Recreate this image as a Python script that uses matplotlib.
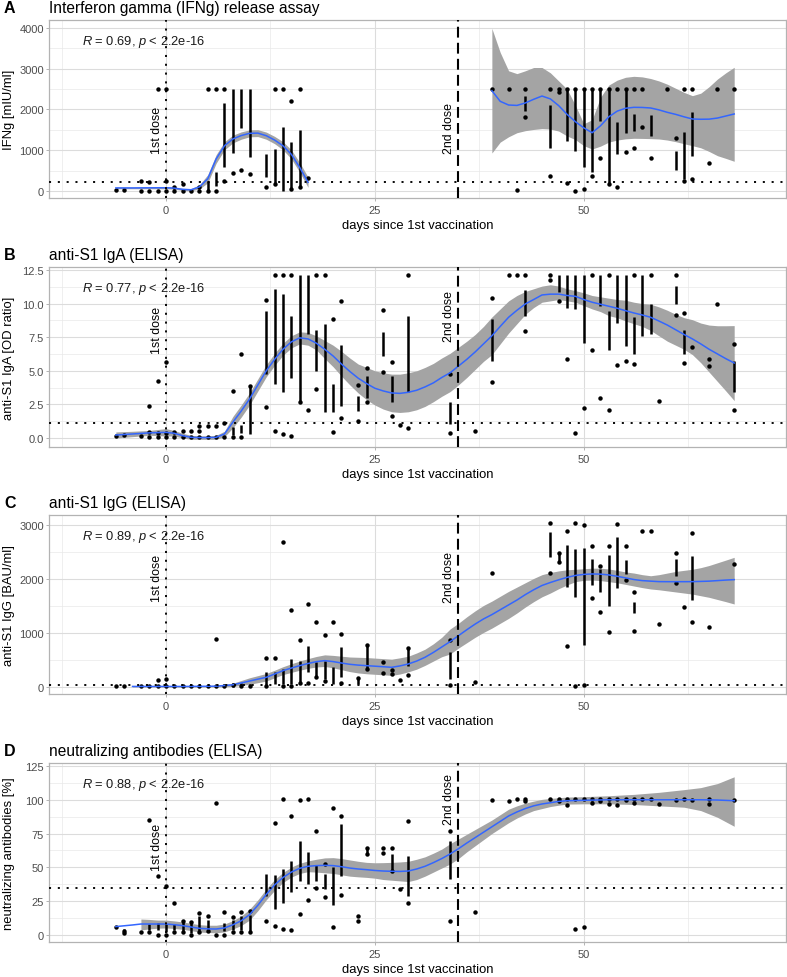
import matplotlib.pyplot as plt
import numpy as np

W, H = 787, 978
plt.rcParams['font.family'] = ['Liberation Sans', 'DejaVu Sans']
plt.rcParams['mathtext.fontset'] = 'custom'
plt.rcParams['mathtext.it'] = 'Liberation Sans:italic'
plt.rcParams['mathtext.rm'] = 'Liberation Sans'

# ---------------- A: IFNg ----------------
a_points = [(-6, 25), (-5, 25), (-3, 250), (-3, 0), (-2, 230), (-2, 0), (-1, 0), (-1, 2500),
            (0, 2500), (0, 0), (0, 240), (1, 100), (1, 0), (2, 180), (2, 0), (3, 0), (4, 0),
            (4, 100), (5, 2500), (5, 0), (6, 2500), (6, 0), (7, 2500), (7, 240), (8, 440),
            (9, 515), (10, 420), (12, 100), (13, 2500), (13, 170), (14, 2500), (15, 2200),
            (15, 60), (16, 2500), (16, 100), (17, 310),
            (39, 2500), (41, 2500), (42, 30), (43, 2500), (43, 1808), (46, 2500), (46, 360),
            (47, 2500), (47, 2420), (48, 2500), (48, 188), (49, 2500), (49, 8), (50, 2500),
            (50, 50), (51, 2500), (51, 360), (52, 2500), (52, 810), (53, 2500), (53, 180),
            (54, 2500), (54, 106), (55, 2500), (55, 950), (56, 2500), (56, 1055), (57, 2500),
            (57, 1578), (58, 802), (60, 2500), (61, 1300), (62, 2500), (62, 253), (63, 2500),
            (63, 295), (65, 687), (66, 2500), (68, 2500)]
a_segs = [(5, 0, 240), (6, 130, 460), (7, 580, 2160), (8, 930, 2500), (9, 1540, 2500),
          (10, 830, 2500), (12, 335, 910), (13, 170, 1030), (14, 0, 1570), (15, 50, 1195),
          (16, 100, 1500),
          (43, 1970, 2339), (46, 1048, 2110), (48, 1235, 2500), (49, 973, 2500), (50, 597, 2500),
          (51, 474, 2500), (52, 1725, 2500), (53, 172, 2500), (54, 908, 1685), (55, 1423, 2500),
          (56, 1480, 1890), (58, 1342, 1865), (61, 523, 989), (62, 295, 1455), (63, 866, 1946)]
a_smooth1 = [(-6, 75, 55, 95), (-4, 75, 55, 95), (-2, 78, 55, 100), (0, 80, 55, 105),
             (1, 70, 45, 95), (2, 40, 15, 65), (3, 30, 5, 60), (4, 100, 50, 150),
             (5, 300, 200, 400), (6, 785, 680, 890), (7, 1110, 1010, 1210), (8, 1276, 1180, 1370),
             (9, 1360, 1270, 1450), (10, 1415, 1330, 1500), (11, 1420, 1335, 1505),
             (12, 1357, 1270, 1445), (13, 1250, 1160, 1340), (14, 1110, 1010, 1210),
             (15, 900, 790, 1010), (16, 580, 460, 700), (17, 213, 90, 340)]
a_smooth2 = [(39, 2461, 932, 3990), (40, 2200, 1200, 3400), (41, 2110, 1330, 2950),
             (42, 2100, 1430, 2880), (43, 2160, 1480, 2950), (44, 2250, 1510, 3030),
             (45, 2330, 1530, 3030), (46, 2260, 1520, 2900), (47, 2094, 1470, 2700),
             (48, 1880, 1350, 2500), (49, 1700, 1260, 2100), (50, 1550, 1112, 1650),
             (51, 1430, 1030, 1750), (52, 1600, 1100, 2300), (53, 1820, 1200, 2600),
             (54, 1960, 1250, 2720), (55, 2030, 1280, 2790), (56, 2053, 1293, 2814),
             (57, 2050, 1290, 2800), (58, 2037, 1285, 2760), (59, 1990, 1276, 2700),
             (60, 1930, 1250, 2620), (61, 1880, 1210, 2520), (62, 1820, 1160, 2420),
             (63, 1767, 1112, 2339), (64, 1760, 1060, 2400), (65, 1763, 970, 2560),
             (66, 1790, 866, 2748), (67, 1840, 800, 2900), (68, 1890, 729, 3035)]

# ---------------- B: IgA ----------------
b_points = [(-6, 0.12), (-5, 0.22), (-3, 0.12), (-2, 2.4), (-2, 0.42), (-2, 0.05), (-1, 4.27),
            (-1, 0.05), (-1, 0.4), (0, 5.63), (0, 0.05), (0, 0.4), (1, 0.47), (1, 0.05), (2, 0.55),
            (2, 0.05), (3, 0.55), (3, 0.05), (4, 0.92), (4, 0.55), (4, 0.05), (5, 0.92), (5, 0.05),
            (6, 0.92), (6, 0.05), (7, 1.1), (7, 0.05), (8, 3.5), (8, 0.05), (9, 6.25), (9, 0.05),
            (10, 3.9), (12, 10.27), (12, 2.33), (13, 12.1), (13, 0.5), (14, 12.1), (14, 0.3),
            (15, 12.1), (15, 0.12), (16, 2.65), (17, 2.1), (18, 12.1), (18, 3.65), (19, 12.1),
            (20, 8.85), (20, 0.42), (21, 10.2), (21, 1.46), (23, 3.94), (23, 1.29), (24, 5.23),
            (24, 2.7), (26, 9.5), (26, 4.9), (27, 5.65), (27, 1.6), (28, 0.97), (29, 12.1),
            (29, 0.72), (34, 4.74), (34, 0.35), (37, 0.55), (39, 10.4), (39, 4.2), (41, 12.1),
            (42, 12.1), (43, 12.1), (43, 7.96), (46, 12.1), (46, 11.78), (47, 10.2), (48, 5.88),
            (49, 0.37), (50, 2.2), (51, 12.1), (51, 6.57), (52, 3.0), (53, 12.1), (53, 2.08),
            (54, 5.43), (55, 5.75), (56, 12.1), (56, 5.48), (58, 12.1), (59, 2.78), (61, 12.1),
            (61, 9.15), (62, 9.28), (62, 5.58), (63, 6.8), (65, 5.88), (65, 5.38), (66, 10.0),
            (68, 6.97), (68, 2.1)]
b_segs = [(8, 0.2, 0.8), (9, 0.4, 1.0), (10, 0.3, 3.9), (12, 4.76, 9.47), (13, 4.0, 11.1),
          (14, 3.4, 10.7), (15, 4.5, 9.1), (16, 2.65, 12.1), (17, 7.74, 12.1), (18, 5.0, 8.0),
          (19, 1.9, 8.5), (20, 1.9, 4.0), (21, 2.4, 6.9), (23, 2.0, 3.15), (24, 3.0, 4.6),
          (26, 6.1, 7.86), (27, 2.65, 4.6), (29, 3.4, 9.05), (34, 1.04, 2.7), (39, 5.75, 8.85),
          (43, 9.05, 11.0), (47, 10.87, 12.1), (48, 9.65, 12.1), (49, 9.6, 12.1), (50, 7.07, 12.1),
          (52, 9.8, 12.1), (53, 6.57, 9.47), (54, 8.56, 12.1), (55, 6.87, 12.1), (56, 6.25, 8.98),
          (57, 7.56, 12.1), (58, 7.74, 9.97), (61, 9.97, 11.33), (62, 6.25, 8.0), (68, 3.4, 5.75)]
b_smooth = [(-6, 0.22, 0.0, 0.45), (-4, 0.3, 0.1, 0.5), (-2, 0.38, 0.2, 0.56), (0, 0.42, 0.15, 0.7),
            (1, 0.35, 0.15, 0.55), (2, 0.17, 0.0, 0.35), (3, 0.05, -0.1, 0.2), (4, 0.03, -0.1, 0.16),
            (5, 0.03, -0.1, 0.16), (6, 0.05, -0.1, 0.2), (7, 0.3, 0.1, 0.5), (8, 1.17, 0.75, 1.6),
            (9, 2.0, 1.55, 2.45), (10, 2.9, 2.45, 3.35), (11, 3.95, 3.5, 4.4), (12, 5.0, 4.55, 5.45),
            (13, 5.85, 5.4, 6.3), (14, 6.6, 6.15, 7.05), (15, 7.15, 6.7, 7.6), (16, 7.45, 7.0, 7.9),
            (17, 7.37, 6.9, 7.85), (18, 7.05, 6.55, 7.6), (19, 6.6, 5.9, 7.25), (20, 6.1, 5.3, 6.9),
            (21, 5.5, 4.6, 6.45), (22, 4.95, 3.95, 5.95), (23, 4.45, 3.35, 5.5), (24, 4.05, 2.85, 5.25),
            (25, 3.7, 2.45, 5.0), (26, 3.5, 2.15, 4.85), (27, 3.35, 1.95, 4.75), (28, 3.32, 1.9, 4.75),
            (29, 3.4, 1.95, 4.85), (30, 3.55, 2.1, 5.0), (31, 3.8, 2.35, 5.25), (32, 4.1, 2.7, 5.55),
            (33, 4.5, 3.1, 5.95), (34, 4.85, 3.45, 6.3), (35, 5.35, 3.95, 6.75), (36, 5.85, 4.5, 7.2),
            (37, 6.4, 5.1, 7.7), (38, 7.0, 5.7, 8.3), (39, 7.6, 6.2, 9.0), (40, 8.3, 7.0, 9.6),
            (41, 8.98, 7.8, 10.2), (42, 9.5, 8.5, 10.6), (43, 9.97, 9.2, 10.9), (44, 10.3, 9.7, 11.1),
            (45, 10.64, 10.1, 11.3), (46, 10.7, 10.2, 11.4), (47, 10.7, 10.3, 11.3),
            (48, 10.6, 10.2, 11.1), (49, 10.54, 10.1, 10.96), (50, 10.3, 9.85, 10.8),
            (51, 10.1, 9.6, 10.6), (52, 9.95, 9.4, 10.5), (53, 9.8, 9.1, 10.4), (54, 9.65, 8.95, 10.3),
            (55, 9.47, 8.7, 10.25), (56, 9.3, 8.5, 10.1), (57, 9.15, 8.3, 10.0), (58, 8.98, 8.0, 9.95),
            (59, 8.7, 7.6, 9.75), (60, 8.4, 7.2, 9.5), (61, 8.05, 6.9, 9.2), (62, 7.7, 6.6, 8.95),
            (63, 7.37, 6.2, 8.8), (64, 7.0, 5.6, 8.55), (65, 6.6, 4.9, 8.4), (66, 6.25, 4.2, 8.35),
            (67, 5.9, 3.5, 8.35), (68, 5.58, 2.78, 8.36)]

# ---------------- C: IgG ----------------
c_points = [(-6, 12), (-5, 12), (-3, 10), (-2, 10), (-1, 130), (-1, 10), (0, 148), (0, 10), (1, 10),
            (2, 10), (3, 10), (4, 10), (5, 10), (6, 10), (6, 889), (7, 15), (8, 30), (9, 20), (10, 20),
            (12, 543), (12, 10), (13, 543), (14, 2691), (14, 10), (15, 1426), (15, 10), (16, 870),
            (16, 80), (17, 1537), (17, 70), (18, 1198), (18, 179), (19, 963), (19, 110), (20, 1198),
            (21, 981), (21, 80), (23, 160), (24, 784), (24, 333), (26, 457), (26, 259), (27, 320),
            (27, 240), (28, 130), (29, 716), (29, 222), (34, 870), (34, 37), (37, 86), (39, 2111),
            (46, 3031), (46, 2111), (47, 2481), (47, 2309), (48, 2883), (48, 753), (49, 3031),
            (49, 25), (50, 3006), (50, 37), (51, 2617), (51, 1642), (52, 2235), (52, 1395),
            (53, 2605), (53, 1012), (54, 3019), (55, 2605), (55, 1988), (56, 1753), (56, 1043),
            (57, 2895), (58, 2895), (59, 1167), (61, 2475), (61, 1920), (62, 1475), (63, 2852),
            (63, 1198), (65, 1117), (68, 2278)]
c_segs = [(7, 0, 60), (8, 0, 80), (9, 0, 70), (10, 0, 60), (12, 25, 270), (13, 56, 272),
          (14, 56, 333), (15, 56, 518), (16, 86, 488), (17, 272, 765), (18, 210, 457),
          (19, 148, 488), (20, 56, 364), (21, 179, 735), (23, 55, 160), (24, 333, 765),
          (29, 395, 704), (34, 148, 642), (46, 2401, 2864), (47, 2330, 2460), (48, 1846, 2630),
          (49, 1660, 2556), (50, 784, 2568), (51, 1889, 2370), (52, 1765, 2185), (53, 1494, 2444),
          (54, 1827, 2772), (55, 2093, 2352), (56, 1370, 1568), (61, 2062, 2370), (63, 1617, 2432)]
c_smooth = [(-4, 10, 0, 20), (-2, 10, 0, 20), (0, 10, 0, 20), (2, 10, 0, 20), (4, 12, 0, 25),
            (6, 15, 0, 30), (8, 40, 10, 70), (9, 74, 30, 120), (10, 110, 50, 170), (11, 145, 80, 210),
            (12, 179, 110, 250), (13, 240, 170, 310), (14, 302, 230, 375), (15, 350, 270, 430),
            (16, 395, 310, 480), (17, 435, 345, 525), (18, 469, 370, 565), (19, 488, 380, 595),
            (20, 470, 355, 585), (21, 444, 320, 570), (22, 420, 285, 555), (23, 405, 260, 550),
            (24, 395, 245, 545), (25, 385, 235, 535), (26, 375, 225, 525), (27, 364, 215, 515),
            (28, 390, 240, 540), (29, 426, 280, 570), (30, 480, 330, 630), (31, 550, 400, 700),
            (32, 640, 480, 800), (33, 740, 560, 920), (34, 840, 611, 1074), (35, 950, 720, 1180),
            (36, 1060, 820, 1300), (37, 1165, 920, 1410), (38, 1260, 1010, 1510),
            (39, 1340, 1090, 1590), (40, 1430, 1180, 1680), (41, 1520, 1270, 1770),
            (42, 1610, 1370, 1850), (43, 1710, 1480, 1930), (44, 1800, 1580, 2010),
            (45, 1880, 1670, 2080), (46, 1935, 1740, 2120), (47, 1985, 1820, 2150),
            (48, 2030, 1890, 2170), (49, 2065, 1950, 2180), (50, 2085, 1975, 2190),
            (51, 2093, 1980, 2200), (52, 2090, 1970, 2200), (53, 2075, 1950, 2185),
            (54, 2050, 1930, 2160), (55, 2020, 1900, 2130), (56, 1990, 1870, 2110),
            (57, 1970, 1840, 2080), (58, 1960, 1815, 2060), (59, 1951, 1800, 2080),
            (60, 1950, 1780, 2110), (61, 1950, 1760, 2140), (62, 1950, 1740, 2160),
            (63, 1951, 1720, 2180), (64, 1955, 1690, 2210), (65, 1960, 1660, 2250),
            (66, 1970, 1620, 2300), (67, 1980, 1580, 2350), (68, 1988, 1537, 2401)]

# ---------------- D: neutralizing ----------------
d_points = [(-6, 6.2), (-5, 3.2), (-5, 1.5), (-3, 2.0), (-2, 85.3), (-2, 2), (-1, 43.9), (-1, 0.25),
            (0, 36.5), (0, 0.25), (1, 23.7), (1, 2), (2, 10.6), (2, 2.5), (3, 9.9), (3, 0.25),
            (4, 16), (4, 2), (5, 13.8), (5, 3.2), (6, 97.4), (6, 0.25), (7, 16.8), (7, 0.25), (8, 13),
            (8, 2), (9, 16.8), (9, 2), (10, 18), (10, 2.5), (12, 10.1), (13, 82.8), (13, 6.4),
            (14, 100.5), (14, 4.4), (15, 88.2), (15, 3.7), (16, 99.5), (16, 15.5), (17, 100.5),
            (17, 26.1), (18, 77.2), (18, 34.5), (19, 52.5), (19, 27.9), (20, 93.9), (20, 5.7),
            (21, 87.8), (21, 29.8), (23, 13.8), (23, 10.1), (24, 64.3), (24, 59.9), (26, 64.3),
            (26, 60.6), (27, 64.3), (27, 47.6), (28, 34), (29, 84), (29, 23.7), (34, 77.2),
            (34, 10.6), (37, 17.3), (39, 99.8), (41, 99.3), (42, 100.5), (43, 100.5), (43, 99.3),
            (46, 100.5), (47, 100.5), (47, 99.3), (48, 100.5), (48, 96), (49, 100.5), (49, 4.4),
            (50, 100.5), (50, 5.7), (51, 100.5), (51, 97.5), (52, 100.5), (52, 99.3), (53, 100.5),
            (53, 97), (54, 100.5), (54, 95.8), (55, 100.5), (55, 100), (56, 100.5), (56, 97.5),
            (57, 100.5), (58, 100.5), (59, 96.9), (61, 99.8), (62, 100.5), (63, 99.8), (65, 100.5),
            (65, 96.9), (68, 99.8)]
d_segs = [(-5, 1.5, 4.5), (-2, 4, 8), (-1, 4, 9), (0, 2, 8), (1, 4, 8), (2, 3, 10), (3, 1.5, 9.5),
          (4, 3, 14), (5, 4, 11), (7, 3, 9), (8, 4, 11), (9, 4, 14), (10, 3, 15), (12, 29, 45),
          (13, 19.2, 44.4), (14, 23.7, 48.8), (15, 31.6, 55), (16, 40.2, 69.8), (17, 37.7, 61.6),
          (18, 40, 52), (19, 34, 45), (20, 21.9, 50.2), (21, 43.9, 82), (24, 60, 64), (27, 48, 60),
          (29, 29.1, 58.2), (34, 41.4, 69.8)]
nan = float('nan')
d_smooth = [(-6, 6.2, nan, nan), (-5, 6.8, nan, nan), (-4, 7.4, nan, nan), (-3, 8.1, 3.7, 11.8),
            (-2, 8.1, 4.5, 11.5), (-1, 8.1, 5, 11), (0, 8.1, 5.2, 11), (1, 7.6, 4.8, 10.4),
            (2, 6.9, 4.2, 9.6), (3, 5.9, 3.2, 8.6), (4, 4.9, 2.2, 7.6), (5, 4.5, 1.8, 7.2),
            (6, 4.4, 1.6, 7.2), (7, 5.2, 2.3, 8.1), (8, 7.5, 4.4, 10.6), (9, 10.5, 7, 14),
            (10, 15, 11, 19), (11, 22, 18, 26), (12, 30, 26, 34), (13, 37, 33, 41),
            (14, 42.5, 38.8, 46.2), (15, 46.5, 42.8, 50.2), (16, 49.3, 45.5, 53), (17, 50.8, 46.8, 54.8),
            (18, 51.3, 46.5, 56), (19, 51.5, 46, 57), (20, 51.3, 45.5, 57.2), (21, 50.5, 44.5, 56.5),
            (22, 49.5, 43.5, 55.5), (23, 48.8, 43, 54.5), (24, 48.3, 42.6, 53.7), (25, 47.7, 42, 53.4),
            (26, 47.3, 41, 53.5), (27, 47.1, 40.5, 53.7), (28, 47, 40, 54), (29, 47.3, 39.5, 54.5),
            (30, 48.8, 41, 56), (31, 50.8, 43.5, 57.8), (32, 53.5, 46.5, 60.5), (33, 56.5, 49.5, 63.5),
            (34, 59.9, 52.5, 67.5), (35, 63.8, 56.5, 71), (36, 68, 61.5, 74.5), (37, 72, 66, 78),
            (38, 76, 70.5, 81.5), (39, 80, 75, 85), (40, 84, 79, 89), (41, 88, 83, 93),
            (42, 91, 86.5, 95.5), (43, 93.5, 89.5, 97.5), (44, 95.5, 92, 99), (45, 96.9, 93.5, 100.3),
            (46, 97.8, 95, 101), (47, 98.8, 96, 101.5), (48, 99.3, 96.8, 102), (50, 99.6, 97, 102.3),
            (53, 100, 97, 103), (56, 100, 96.5, 104), (59, 100, 95.5, 105.5), (62, 100, 94.5, 107.5),
            (64, 100, 92, 109), (66, 99.8, 87, 112), (68, 99.3, 80.4, 117)]

panels = [
    dict(letter='A', title='Interferon gamma (IFNg) release assay', ylabel='IFNg [mIU/ml]',
         top=21, bottom=199, ylim=(-172, 4196), yticks=[0, 1000, 2000, 3000, 4000],
         ylabels=['0', '1000', '2000', '3000', '4000'], yminor=[500, 1500, 2500, 3500],
         thr=220, d1=1520, d2=1546, r='0.69',
         points=a_points, segs=a_segs, smooths=[a_smooth1, a_smooth2]),
    dict(letter='B', title='anti-S1 IgA (ELISA)', ylabel='anti-S1 IgA [OD ratio]',
         top=268, bottom=448, ylim=(-0.67, 12.72), yticks=[0, 2.5, 5, 7.5, 10, 12.5],
         ylabels=['0.0', '2.5', '5.0', '7.5', '10.0', '12.5'],
         yminor=[1.25, 3.75, 6.25, 8.75, 11.25],
         thr=1.1, d1=8.1, d2=9.08, r='0.77',
         points=b_points, segs=b_segs, smooths=[b_smooth]),
    dict(letter='C', title='anti-S1 IgG (ELISA)', ylabel='anti-S1 IgG [BAU/ml]',
         top=516, bottom=695, ylim=(-130, 3185), yticks=[0, 1000, 2000, 3000],
         ylabels=['0', '1000', '2000', '3000'], yminor=[500, 1500, 2500],
         thr=35.2, d1=2037, d2=2037, r='0.89',
         points=c_points, segs=c_segs, smooths=[c_smooth]),
    dict(letter='D', title='neutralizing antibodies (ELISA)', ylabel='neutralizing antibodies [%]',
         top=764, bottom=943, ylim=(-5.2, 127.2), yticks=[0, 25, 50, 75, 100, 125],
         ylabels=['0', '25', '50', '75', '100', '125'], yminor=[12.5, 37.5, 62.5, 87.5, 112.5],
         thr=35, d1=65.8, d2=100.6, r='0.88',
         points=d_points, segs=d_segs, smooths=[d_smooth]),
]

fig = plt.figure(figsize=(W / 100, H / 100), dpi=100)
left, right = 49, 786
dot = (0, (1.1, 3.6))

for p in panels:
    ax = fig.add_axes([left / W, 1 - p['bottom'] / H, (right - left) / W, (p['bottom'] - p['top']) / H])
    ax.set_xlim(-14, 74.2)
    ax.set_ylim(*p['ylim'])
    ax.set_xticks([0, 25, 50])
    ax.set_xticks([-12.5, 12.5, 37.5, 62.5], minor=True)
    ax.set_yticks(p['yticks'])
    ax.set_yticklabels(p['ylabels'])
    ax.set_yticks(p['yminor'], minor=True)
    ax.grid(which='major', color='#dcdcdc', lw=0.8)
    ax.grid(which='minor', color='#e9e9e9', lw=0.5)
    ax.set_axisbelow(True)
    for s in ax.spines.values():
        s.set_color('#b3b3b3')
        s.set_linewidth(0.9)
    ax.tick_params(which='major', length=2.5, width=0.7, color='#b3b3b3',
                   labelcolor='#4d4d4d', labelsize=8)
    ax.tick_params(axis='x', pad=2.2)
    ax.tick_params(axis='y', pad=1.2)
    ax.tick_params(which='minor', length=0)

    for sm in p['smooths']:
        d, f, lo, hi = map(np.array, zip(*sm))
        ax.fill_between(d, lo, hi, color='#a4a4a4', lw=0, zorder=1)
    sd, slo, shi = zip(*p['segs'])
    ax.vlines(sd, slo, shi, color='black', lw=1.8, zorder=2)
    pd_, pv = zip(*p['points'])
    ax.plot(pd_, pv, 'o', color='black', ms=3.2, mew=0, zorder=3)
    for sm in p['smooths']:
        d, f, lo, hi = zip(*sm)
        ax.plot(d, f, color='#3366ff', lw=1.1, zorder=4)

    ax.axvline(0, color='black', lw=1.35, ls=dot, zorder=5)
    ax.axvline(35, color='black', lw=1.5, ls=(0, (5.2, 2.5)), zorder=5)
    ax.axhline(p['thr'], color='black', lw=1.35, ls=dot, zorder=5)

    ax.text(-0.4, p['d1'], '1st dose', rotation=90, ha='right', va='center', fontsize=8.9, zorder=6)
    ax.text(34.6, p['d2'], '2nd dose', rotation=90, ha='right', va='center', fontsize=8.9, zorder=6)
    ax.text(33 / 737, 0.883, r'$\mathit{R}$ = ' + p['r'] + r', $\mathit{p}$ < 2.2e-16',
            transform=ax.transAxes, ha='left', va='center', fontsize=9.3, color='#1a1a1a')

    # titles and axis labels in figure pixel positions
    fig.text(4 / W, 1 - (p['top'] - 8) / H, p['letter'], fontsize=11.5, fontweight='bold',
             ha='left', va='baseline')
    fig.text(left / W, 1 - (p['top'] - 8) / H, p['title'], fontsize=11.2, ha='left', va='baseline')
    fig.text((left + right) / 2 / W, 1 - (p['bottom'] + 30) / H, 'days since 1st vaccination',
             fontsize=9.4, ha='center', va='baseline')
    fig.text(9 / W, 1 - (p['top'] + p['bottom']) / 2 / H, p['ylabel'], rotation=90,
             fontsize=9.4, ha='center', va='center')

fig.savefig('out.png', dpi=100)
